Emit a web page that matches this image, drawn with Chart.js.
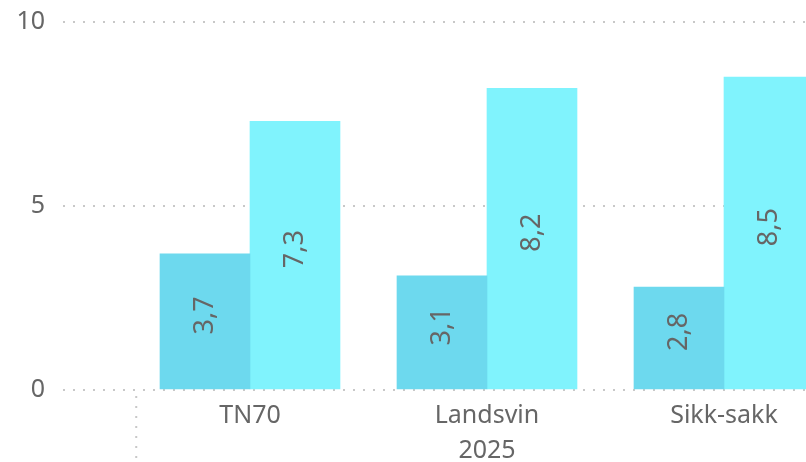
<!DOCTYPE html>
<html>
<head>
<meta charset="utf-8">
<script src="https://cdn.jsdelivr.net/npm/chart.js@4/dist/chart.umd.min.js"></script>
<style>
  html, body { margin: 0; padding: 0; background: #fff; overflow: hidden; }
  #wrap { width: 806px; height: 462px; position: relative; }
</style>
</head>
<body>
<div id="wrap"><canvas id="grafikk"></canvas></div>
<script>
// Data
const kategorier = ['TN70', 'Landsvin', 'Sikk-sakk'];
const gruppe = '2025';
const serieA = [3.7, 3.1, 2.8];
const serieB = [7.3, 8.2, 8.5];
const yTicks = [0, 5, 10];

const tekstFarge = '#666666';
const font = "'Segoe UI', 'Noto Sans', sans-serif";

// Etiketter inne i søylene, rotert
const etikettPlugin = {
    id: 'etiketter',
    afterDatasetsDraw(chart) {
        const ctx = chart.ctx;
        ctx.save();
        ctx.fillStyle = tekstFarge;
        ctx.font = '27px ' + font;
        ctx.textAlign = 'center';
        ctx.textBaseline = 'middle';
        chart.data.datasets.forEach((ds, i) => {
            chart.getDatasetMeta(i).data.forEach((bar, j) => {
                const v = ds.data[j].y;
                const midt = (bar.y + bar.base) / 2 - 6;
                ctx.save();
                ctx.translate(bar.x, midt);
                ctx.rotate(-Math.PI / 2);
                ctx.fillText(v.toFixed(1).replace('.', ','), 0, 0);
                ctx.restore();
            });
        });
        ctx.restore();
    }
};

// Skillelinje for gruppen under x-aksen
const skillePlugin = {
    id: 'skille',
    afterDraw(chart) {
        const x = chart.scales.x.getPixelForValue(-0.48);
        const ctx = chart.ctx;
        ctx.save();
        ctx.strokeStyle = '#c8c8c8';
        ctx.lineWidth = 2;
        ctx.setLineDash([2, 8]);
        ctx.beginPath();
        ctx.moveTo(x, chart.chartArea.bottom + 6);
        ctx.lineTo(x, chart.height);
        ctx.stroke();
        ctx.restore();
    }
};

new Chart(document.getElementById('grafikk'), {
    type: 'bar',
    data: {
        datasets: [
            {
                label: 'A',
                data: serieA.map((v, i) => ({ x: i, y: v })),
                backgroundColor: '#6dd9ee',
                barThickness: 90
            },
            {
                label: 'B',
                data: serieB.map((v, i) => ({ x: i, y: v })),
                backgroundColor: '#80f3fd',
                barThickness: 90
            }
        ]
    },
    options: {
        responsive: true,
        maintainAspectRatio: false,
        animation: false,
        layout: { padding: { top: 22, right: 0, bottom: 0, left: 0 } },
        plugins: {
            legend: { display: false },
            tooltip: { enabled: false }
        },
        scales: {
            x: {
                type: 'linear',
                offset: false,
                min: -0.789,
                max: 2.346,
                border: { display: false },
                grid: { display: false, offset: false },
                afterFit: s => { s.height = 72; },
                ticks: {
                    stepSize: 1,
                    includeBounds: false,
                    autoSkip: false,
                    maxRotation: 0,
                    padding: 0,
                    color: tekstFarge,
                    font: { family: font, size: 25, lineHeight: 1.42 },
                    callback: v => {
                        if (v === 1) return [kategorier[1], gruppe];
                        return kategorier[v] ?? '';
                    }
                }
            },
            y: {
                min: 0,
                max: 10,
                border: { display: false, dash: [2, 8] },
                afterFit: s => { s.width = 63; s.paddingTop = 0; s.paddingBottom = 0; },
                afterBuildTicks: s => { s.ticks = yTicks.map(v => ({ value: v })); },
                grid: {
                    color: '#c8c8c8',
                    lineWidth: 2,
                    drawTicks: false
                },
                ticks: {
                    padding: 18,
                    color: tekstFarge,
                    font: { family: font, size: 25 }
                }
            }
        }
    },
    plugins: [etikettPlugin, skillePlugin]
});
</script>
</body>
</html>
